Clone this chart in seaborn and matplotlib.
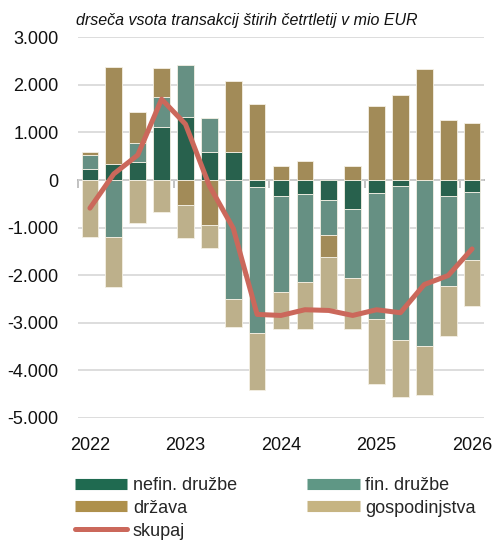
import matplotlib
matplotlib.use("Agg")
import matplotlib.pyplot as plt
from matplotlib.lines import Line2D
from matplotlib.ticker import FuncFormatter
import seaborn as sns
import pandas as pd
import numpy as np

# quarters 2022Q1 .. 2026Q1, rolling 4-quarter sums in mio EUR
quarters = [f"{y}Q{q}" for y in range(2022, 2026) for q in range(1, 5)] + ["2026Q1"]
nefin = [230, 335, 385, 1125, 1330, 587, 587, -140, -330, -287, -419, -608, -273, -119, 0, -329, -258]
fin = [300, -1195, 395, 610, 1080, 713, -2495, -3082, -2025, -1851, -727, -1454, -2641, -3242, -3480, -1887, -1419]
drzava = [70, 2040, 650, 625, -525, -943, 1493, 1607, 300, 405, -468, 287, 1558, 1788, 2327, 1258, 1209]
gosp = [-1190, -1050, -900, -665, -695, -489, -600, -1188, -783, -986, -1090, -1062, -1369, -1203, -1034, -1061, -979]
skupaj = [-590, 130, 525, 1700, 1175, -120, -1013, -2823, -2845, -2725, -2740, -2845, -2725, -2788, -2195, -2006, -1447]
year_labels = ["2022", "2023", "2024", "2025", "2026"]

series = {
    "nefin. družbe": nefin,
    "fin. družbe": fin,
    "država": drzava,
    "gospodinjstva": gosp,
}
colors = {
    "nefin. družbe": "#1f6a50",
    "fin. družbe": "#5f9785",
    "država": "#ae904c",
    "gospodinjstva": "#c6b482",
}
line_color = "#cb685b"

df = pd.DataFrame(series)
df["quarter"] = quarters
df["skupaj"] = skupaj
df["pos"] = np.arange(len(df))

sns.set_theme(style="white")
plt.rcParams["font.family"] = ["Liberation Sans", "DejaVu Sans"]

fig = plt.figure(figsize=(4.94, 5.40), dpi=100)
ax = fig.add_axes([78 / 494, 1 - 418 / 540, 406 / 494, (418 - 37.3) / 540])

# stack positives and negatives separately
pos_base = np.zeros(len(df))
neg_base = np.zeros(len(df))
for name in series:
    vals = df[name].to_numpy(dtype=float)
    bottom = np.where(vals >= 0, pos_base, neg_base)
    sns.barplot(x=df["pos"], y=vals, bottom=bottom, color=colors[name],
                width=0.7, edgecolor="#f4f0e4", linewidth=0.6,
                native_scale=True, ax=ax, zorder=2)
    pos_base += np.where(vals >= 0, vals, 0)
    neg_base += np.where(vals < 0, vals, 0)

sns.lineplot(x=df["pos"], y=df["skupaj"], color=line_color, linewidth=3.6,
             solid_capstyle="round", ax=ax, zorder=5)

ax.set_xlim(-0.5, len(df) - 0.5)
ax.set_ylim(-5000, 3000)
ax.set_yticks(np.arange(-5000, 3001, 1000))
ax.yaxis.set_major_formatter(FuncFormatter(lambda v, p: f"{v:,.0f}".replace(",", ".")))
ax.grid(axis="y", color="#d3d3d3", linewidth=1.1, zorder=0)
ax.grid(axis="x", visible=False)
ax.set_axisbelow(True)
for s in ax.spines.values():
    s.set_visible(False)

year_pos = [i for i, q in enumerate(quarters) if q.endswith("Q1")]
ax.set_xticks(year_pos)
ax.set_xticklabels(year_labels)
ax.set_xlabel("")
ax.set_ylabel("")
ax.tick_params(axis="x", length=0, pad=14, labelsize=13, colors="#111111")
ax.tick_params(axis="y", length=0, pad=14, labelsize=13, colors="#111111")

# zero line with year boundary ticks pointing down
zero_frac = 5000 / 8000
sec = ax.secondary_xaxis(zero_frac)
sec.set_alignment("bottom")
sec.set_xticks([p - 0.5 for p in year_pos])
sec.set_xticklabels([])
sec.tick_params(axis="x", direction="out", length=6, width=1.2, color="#b8b8b8")
sec.spines["bottom"].set_color("#b8b8b8")
sec.spines["bottom"].set_linewidth(1.4)
sec.spines["bottom"].set_zorder(3)

fig.text(76 / 494, 1 - 25 / 540, "drseča vsota transakcij štirih četrtletij v mio EUR",
         fontsize=11.5, style="italic", color="#111111", va="baseline", ha="left")

handles = [
    Line2D([], [], color=colors["nefin. družbe"], lw=8, solid_capstyle="butt"),
    Line2D([], [], color=colors["država"], lw=8, solid_capstyle="butt"),
    Line2D([], [], color=line_color, lw=3.6, solid_capstyle="round"),
    Line2D([], [], color=colors["fin. družbe"], lw=8, solid_capstyle="butt"),
    Line2D([], [], color=colors["gospodinjstva"], lw=8, solid_capstyle="butt"),
]
labels = ["nefin. družbe", "država", "skupaj", "fin. družbe", "gospodinjstva"]
fig.legend(handles, labels, ncol=2, loc="upper left",
           bbox_to_anchor=(75 / 494, 1 - 477 / 540), frameon=False,
           fontsize=13, handlelength=2.9, handletextpad=0.3,
           labelspacing=0.32, columnspacing=3.9, borderpad=0, borderaxespad=0)

fig.savefig("out.png", dpi=100)
